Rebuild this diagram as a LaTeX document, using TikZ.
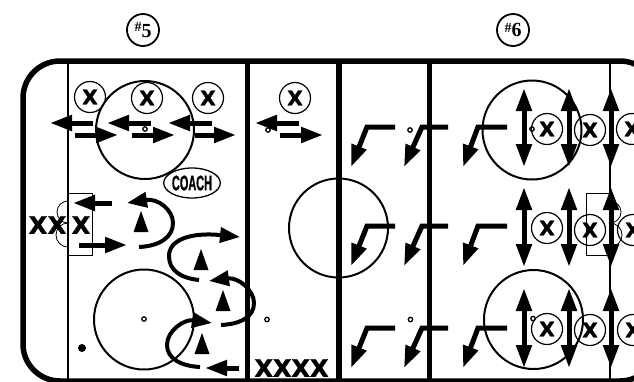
\documentclass[tikz,border=0pt]{standalone}
\usepackage{fontspec}
\setmainfont{Liberation Serif}
\newfontfamily\xfont[BoldFeatures={FakeBold=1.5}]{DejaVu Sans}
\newfontfamily\coachfont[BoldFeatures={FakeBold=1.5}]{Liberation Sans}
\usetikzlibrary{arrows.meta,shapes.geometric}
\tikzset{
  rink/.style={draw=black, line width=5.5pt, rounded corners=37pt},
  bluewall/.style={draw=black, line width=5pt},
  redwall/.style={draw=black, line width=6pt},
  thinwall/.style={draw=black, line width=2pt},
  faceoff/.style={draw=black, line width=2pt},
  crease/.style={draw=black, line width=0.8pt},
  spot/.style={draw=black, line width=1.3pt},
  skater/.style={circle, draw=black, line width=1.2pt, minimum size=31pt, inner sep=0pt,
    font=\xfont\bfseries\fontsize{20}{20}\selectfont},
  xonly/.style={inner sep=0pt, font=\xfont\bfseries\fontsize{24}{24}\selectfont},
  drillno/.style={circle, draw=black, line width=1.8pt, minimum size=32pt, inner sep=0pt,
    font=\bfseries\fontsize{20}{20}\selectfont},
  coachbox/.style={ellipse, draw=black, line width=1.3pt, minimum width=50pt, minimum height=30pt,
    inner sep=0pt, font=\coachfont\bfseries\fontsize{21}{21}\selectfont},
  arr/.style={-{Triangle[length=22pt,width=15pt]}, line width=5pt},
  darr/.style={{Triangle[length=23pt,width=15pt]}-{Triangle[length=23pt,width=15pt]}, line width=5pt},
  knee/.style={-{Triangle[length=22pt,width=15pt]}, line width=5pt, line join=miter},
  turn/.style={-{Triangle[length=20pt,width=15pt]}, line width=4pt}
}
\begin{document}
\begin{tikzpicture}[x=1pt, y=-1pt]
  \useasboundingbox (0,0) rectangle (634,381);
  \clip (0,0) rectangle (634,381);
  \fill[white] (0,0) rectangle (634,381);
  % rink and lines
  \draw[rink] (23,61) rectangle (657,381);
  \draw[thinwall] (68,61) -- (68,381);
  \draw[bluewall] (247,61) -- (247,381);
  \draw[redwall] (339,61) -- (339,381);
  \draw[bluewall] (429,61) -- (429,381);
  \draw[thinwall] (610,61) -- (610,381);
  % circles
  \foreach \cx/\cy/\r in {145/130/49, 144/319.5/50, 338.5/228/49.5, 532/130/49.5, 533.5/319.5/49.5}
    \draw[faceoff] (\cx,\cy) circle (\r);
  \foreach \cx/\cy in {145/129, 268/130, 410/130, 532/129, 144/319, 267/319.5, 410.5/319.5, 533/318.5}
    \draw[spot] (\cx,\cy) circle (2.2);
  \fill (82,348) circle (4);
  % goals
  \draw[crease] (68,193) rectangle (92,255);
  \draw[crease] (586,193) rectangle (610,255);
  \draw[crease] (68,201) arc (270:90:11) arc (270:90:12);
  \draw[crease] (610,201) arc (-90:90:11) arc (-90:90:12);
  % titles
  \node[drillno] (drillA) at (143,30) {\raisebox{4pt}{\fontsize{14}{14}\selectfont\#}\raisebox{-2pt}{5}};
  \node[drillno] (drillB) at (513,30) {\raisebox{4pt}{\fontsize{14}{14}\selectfont\#}6};
  \node[coachbox] (coach) at (192,183) {\scalebox{.52}[1]{COACH}};
  % players
  \foreach \cx/\cy in {90/97, 147/98, 208/98, 295/98, 547/129, 590/130, 632/129,
      547/228, 590/230, 633/230, 547/329, 590/330, 633/330}
    \node[skater] at (\cx,\cy) {X};
  \node[xonly] (xa) at (38,225) {X};
  \node[xonly] (xb) at (57,225) {X};
  \node[xonly] (xc) at (81,225) {X};
  \node[xonly] (xd) at (291.5,368) {XXXX};
  % side to side
  \foreach \tail/\tip in {93/50, 151/107, 212/168, 299/255}
    \draw[arr] (\tail,123) -- (\tip,123);
  \foreach \tail/\tip in {75/118, 132/175, 195/236, 280/323}
    \draw[arr] (\tail,135) -- (\tip,135);
  \draw[arr] (112,203) -- (73,203);
  \draw[arr] (79,245) -- (127,245);
  \draw[arr] (239,368) -- (205,368);
  % turns
  \draw[turn] (139,247) .. controls (160,246) and (173,237) .. (173,223) .. controls (173,210) and (158,198) .. (127,203);
  \draw[turn] (199,280) .. controls (180,278) and (169,270) .. (169,256) .. controls (169,240) and (190,232) .. (240,237);
  \draw[turn] (221,325) .. controls (242,324) and (254,316) .. (254,303) .. controls (254,290) and (238,277) .. (209,281);
  \draw[turn] (200,367) .. controls (180,366) and (167,358) .. (167,345) .. controls (167,330) and (185,319) .. (212,323);
  \foreach \cx/\cy in {141/211, 201/249, 223/290, 202/333}
    \fill (\cx,\cy) -- (\cx-7.5,\cy+21) -- (\cx+7.5,\cy+21) -- cycle;
  % skating lanes
  \foreach \y in {127,226,328}
    \foreach \x/\b in {351/16, 404/18, 463/15}
      \draw[knee] (\x+44,\y) -- (\x+\b,\y) -- (\x,\y+40);
  \foreach \x in {524,569,611} {
    \draw[darr] (\x,88) -- (\x,167);
    \draw[darr] (\x,187) -- (\x,267);
    \draw[darr] (\x,288) -- (\x,368);
  }
\end{tikzpicture}
\end{document}
